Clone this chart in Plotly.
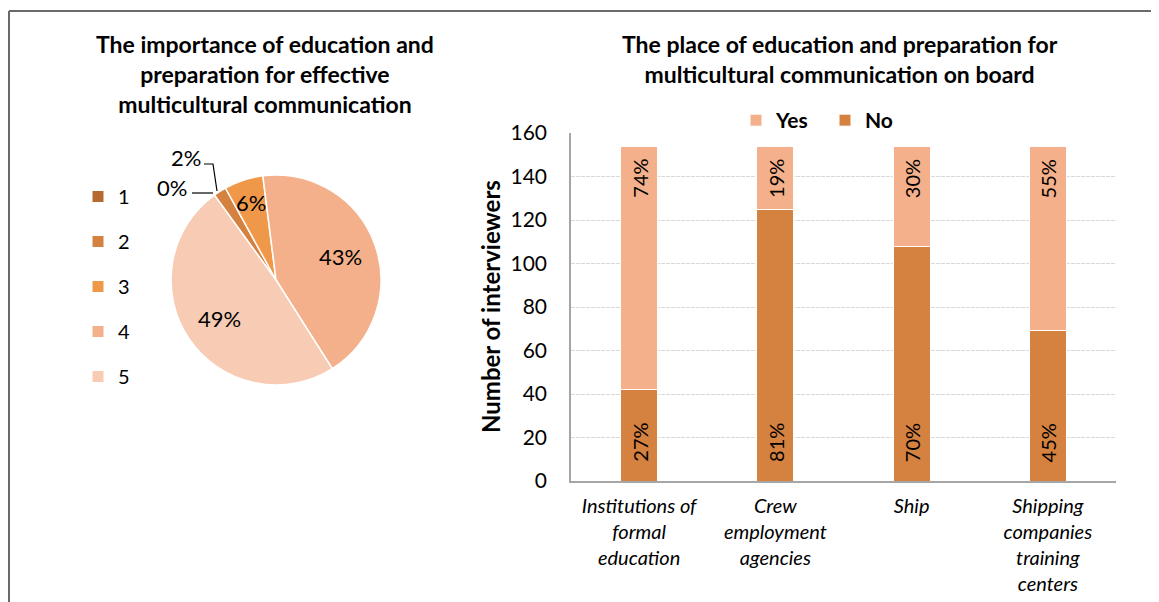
import math
import plotly.graph_objects as go

W, H = 1159, 602
OX, OY = 8, 8  # page body offset
FONT = "Lato"

# ---- pie data ----
pie_labels = ["1", "2", "3", "4", "5"]
pie_values = [0, 2, 6, 43, 49]
pie_colors = ["#B56A30", "#D5813F", "#F0984A", "#F4B08A", "#F8CCB4"]

# ---- bar data ----
categories = ["Institutions of<br>formal<br>education",
              "Crew<br>employment<br>agencies",
              "Ship",
              "Shipping<br>companies<br>training<br>centers"]
no_values = [42, 125, 108, 69]
yes_values = [112, 29, 46, 85]
no_labels = ["27%", "81%", "70%", "45%"]
yes_labels = ["74%", "19%", "30%", "55%"]
y_ticks = [0, 20, 40, 60, 80, 100, 120, 140, 160]

NO_COLOR = "#D5813F"
YES_COLOR = "#F4B08A"

PIE_CX, PIE_CY, PIE_R = 276, 280, 105
PIE_ROT = -36


def px(x):
    return (x - OX) / W


def py(y):
    return 1 - (y - OY) / H


fig = go.Figure()

fig.add_trace(go.Pie(
    labels=pie_labels, values=pie_values, sort=False, direction="clockwise",
    rotation=PIE_ROT, marker=dict(colors=pie_colors, line=dict(color="white", width=1.5)),
    textinfo="none",
    domain=dict(x=[px(PIE_CX - PIE_R), px(PIE_CX + PIE_R)],
                y=[py(PIE_CY + PIE_R), py(PIE_CY - PIE_R)]),
    showlegend=False, hoverinfo="label+percent",
))

# legend entries for the pie (one group each so the spacing can match)
for lab, col in zip(pie_labels, pie_colors):
    fig.add_trace(go.Scatter(
        x=[None], y=[None], mode="markers", name=lab, legendgroup=lab,
        marker=dict(symbol="square", size=11, color=col), legend="legend",
        hoverinfo="skip",
    ))

fig.add_trace(go.Bar(
    x=categories, y=no_values, name="No", marker=dict(color=NO_COLOR, line=dict(color="white", width=1)),
    width=0.27, legend="legend2", hovertext=no_labels,
))
fig.add_trace(go.Bar(
    x=categories, y=yes_values, name="Yes", marker=dict(color=YES_COLOR, line=dict(color="white", width=1)),
    width=0.27, legend="legend2", hovertext=yes_labels,
))

center = dict(xref="paper", yref="paper", showarrow=False, xanchor="center", yanchor="middle")
annotations = [
    dict(text="<b>The importance of education and<br>preparation for effective<br>multicultural communication</b>",
         x=px(265), y=py(74), font=dict(family=FONT, size=23, color="black"), align="center", **center),
    dict(text="<b>The place of education and preparation for<br>multicultural communication on board</b>",
         x=px(840), y=py(59), font=dict(family=FONT, size=23, color="black"), align="center", **center),
    dict(text="<b>Number of interviewers</b>", textangle=-90,
         x=px(490), y=py(307), font=dict(family=FONT, size=24, color="black"), **center),
]

# bar value labels (rotated, inside the segments)
for cat, n, yv, nl, yl in zip(categories, no_values, yes_values, no_labels, yes_labels):
    annotations.append(dict(text=yl, x=cat, y=n + yv, xref="x", yref="y", showarrow=False,
                            textangle=-90, xanchor="center", yanchor="top", yshift=-11,
                            font=dict(family=FONT, size=20, color="black")))
    annotations.append(dict(text=nl, x=cat, y=0, xref="x", yref="y", showarrow=False,
                            textangle=-90, xanchor="center", yanchor="bottom", yshift=17,
                            font=dict(family=FONT, size=20, color="black")))

# pie percentage labels placed on each slice's bisector
total = sum(pie_values)
cum = 0
for i, v in enumerate(pie_values):
    mid = PIE_ROT + 360 * (cum + v / 2) / total
    cum += v
    if v >= 10:
        rf = 0.65
    elif v >= 5:
        rf = 0.78
    else:
        continue
    a = math.radians(mid)
    lx = PIE_CX + rf * PIE_R * math.sin(a)
    ly = PIE_CY - rf * PIE_R * math.cos(a)
    annotations.append(dict(text=f"{v}%", x=px(lx), y=py(ly),
                            font=dict(family=FONT, size=22, color="black"), **center))

# small slices: labels outside with leader lines
annotations.append(dict(text=f"{pie_values[1]}%", x=px(186), y=py(157),
                        font=dict(family=FONT, size=22, color="black"), **center))
annotations.append(dict(text=f"{pie_values[0]}%", x=px(172), y=py(188),
                        font=dict(family=FONT, size=22, color="black"), **center))


def path(points):
    return "M " + " L ".join(f"{px(x)},{py(y)}" for x, y in points)


shapes = [
    dict(type="path", xref="paper", yref="paper", path=path([(204, 164), (213, 164), (217, 191)]),
         line=dict(color="black", width=1.2)),
    dict(type="path", xref="paper", yref="paper", path=path([(192, 193), (213, 193)]),
         line=dict(color="black", width=1.2)),
    # frame
    dict(type="line", xref="paper", yref="paper", x0=px(9), x1=px(1170), y0=py(11), y1=py(11),
         line=dict(color="#6a6a6a", width=2)),
    dict(type="line", xref="paper", yref="paper", x0=px(9), x1=px(9), y0=py(11), y1=py(610),
         line=dict(color="#6a6a6a", width=2)),
]

fig.update_layout(
    width=W, height=H, margin=dict(l=0, r=0, t=0, b=0, autoexpand=False),
    paper_bgcolor="white", plot_bgcolor="white",
    font=dict(family=FONT, color="black"),
    barmode="stack",
    annotations=annotations, shapes=shapes,
    xaxis=dict(domain=[px(571), px(1116)], type="category", categoryarray=categories,
               showline=True, linecolor="#a6a6a6", linewidth=1.5, automargin=False,
               tickfont=dict(family=FONT, size=20, style="italic"), ticks="", ticklabelstandoff=6,
               fixedrange=True),
    yaxis=dict(domain=[py(481), py(133)], range=[0, 160], tickvals=y_ticks, showline=True,
               linecolor="#a6a6a6", linewidth=1.5, gridcolor="#d9d9d9", griddash="4px,1px",
               tickfont=dict(family=FONT, size=21), ticks="", ticklabelstandoff=18,
               zeroline=False, fixedrange=True, automargin=False),
    legend=dict(x=px(78), y=py(177), xanchor="left", yanchor="top", tracegroupgap=16,
                font=dict(family=FONT, size=20), bgcolor="rgba(0,0,0,0)", itemwidth=30),
    legend2=dict(orientation="h", x=px(736), y=py(100), xanchor="left", yanchor="top",
                 traceorder="reversed", font=dict(family=FONT, size=21, weight="bold"),
                 entrywidth=44, bgcolor="rgba(0,0,0,0)"),
)

fig.write_html("out.html")
